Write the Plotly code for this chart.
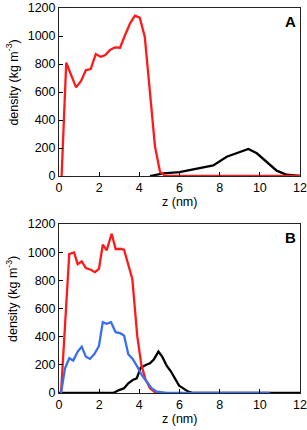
import plotly.graph_objects as go

# Panel A
a_red_z = [0.13, 0.36, 0.85, 1.1, 1.34, 1.58, 1.83, 2.07, 2.31, 2.54, 2.79, 3.04, 3.27, 3.54, 3.78, 4.02, 4.27, 4.52, 4.78, 5.03, 5.3, 12.0]
a_red_d = [0, 809, 633, 679, 757, 764, 871, 852, 864, 900, 919, 916, 1000, 1090, 1145, 1131, 995, 600, 210, 30, 0, 0]
a_blk_z = [4.53, 5.2, 6.0, 7.0, 7.68, 8.35, 9.0, 9.43, 9.85, 10.35, 10.84, 11.34, 12.0]
a_blk_d = [0, 19, 28, 55, 76, 138, 174, 193, 162, 98, 38, 9, 0]

# Panel B
b_red_z = [0.1, 0.51, 0.75, 0.93, 1.13, 1.34, 1.58, 1.79, 1.99, 2.18, 2.37, 2.62, 2.82, 3.04, 3.24, 3.45, 3.65, 3.9, 4.1, 4.3, 4.53, 4.78, 5.0]
b_red_d = [0, 986, 998, 915, 934, 887, 875, 858, 882, 1053, 1012, 1131, 1022, 1024, 1017, 910, 810, 400, 200, 100, 33, 5, 0]
b_blu_z = [0.1, 0.3, 0.51, 0.71, 0.93, 1.13, 1.34, 1.54, 1.76, 1.99, 2.18, 2.37, 2.59, 2.82, 3.04, 3.24, 3.45, 3.67, 3.9, 4.12, 4.37, 4.62, 4.87, 5.36, 10.5]
b_blu_d = [0, 176, 247, 230, 294, 329, 258, 242, 277, 334, 503, 491, 503, 432, 425, 408, 275, 242, 187, 128, 80, 33, 10, 0, 0]
b_blk_z = [0.0, 2.7, 2.99, 3.24, 3.45, 3.67, 3.87, 4.07, 4.32, 4.53, 4.73, 4.95, 5.14, 5.36, 5.56, 5.78, 5.98, 6.19, 6.44, 6.69, 12.0]
b_blk_d = [0, 0, 21, 33, 69, 92, 104, 180, 199, 211, 240, 294, 258, 194, 156, 104, 52, 33, 10, 0, 0]

x_ticks = [0, 2, 4, 6, 8, 10, 12]
y_ticks = [0, 200, 400, 600, 800, 1000, 1200]
panel_labels = ["A", "B"]
x_title = "z (nm)"
y_title = "density (kg m<sup>-3</sup>)"

RED = "#ff1a1a"
BLUE = "#3a6df0"
BLACK = "#000000"

fig = go.Figure()
lw = 2.3
fig.add_trace(go.Scatter(x=a_blk_z, y=a_blk_d, mode="lines", line=dict(color=BLACK, width=lw), xaxis="x", yaxis="y"))
fig.add_trace(go.Scatter(x=a_red_z, y=a_red_d, mode="lines", line=dict(color=RED, width=lw), xaxis="x", yaxis="y"))
fig.add_trace(go.Scatter(x=b_blk_z, y=b_blk_d, mode="lines", line=dict(color=BLACK, width=lw), xaxis="x2", yaxis="y2"))
fig.add_trace(go.Scatter(x=b_red_z, y=b_red_d, mode="lines", line=dict(color=RED, width=lw), xaxis="x2", yaxis="y2"))
fig.add_trace(go.Scatter(x=b_blu_z, y=b_blu_d, mode="lines", line=dict(color=BLUE, width=lw), xaxis="x2", yaxis="y2"))

font = dict(family="Liberation Sans, Arial, sans-serif", size=12, color="#000")

def xax(anchor):
    return dict(range=[0, 12], tickvals=x_ticks, ticks="inside", ticklen=4, tickcolor="#000",
                showline=True, mirror=True, linecolor="#222", linewidth=1, showgrid=False,
                zeroline=False, anchor=anchor, domain=[0, 1], automargin=False,
                tickfont=dict(size=12.5))

def yax(anchor, dom):
    return dict(range=[0, 1200], tickvals=y_ticks, ticks="inside", ticklen=4, tickcolor="#000",
                showline=True, mirror=True, linecolor="#222", linewidth=1, showgrid=False,
                zeroline=False, anchor=anchor, domain=dom, automargin=False,
                tickfont=dict(size=12.5))

annots = []
for xa, ya, lab in [("x", "y", panel_labels[0]), ("x2", "y2", panel_labels[1])]:
    annots.append(dict(text="<b>%s</b>" % lab, x=0.99, y=0.985, xref=xa + " domain", yref=ya + " domain",
                       xanchor="right", yanchor="top", showarrow=False, font=dict(size=15)))
    annots.append(dict(text=x_title, x=0.5, y=0, xref=xa + " domain", yref=ya + " domain",
                       xanchor="center", yanchor="middle", yshift=-26, showarrow=False, font=dict(size=12.5)))
    annots.append(dict(text=y_title, x=0, y=0.556, xref=xa + " domain", yref=ya + " domain",
                       xanchor="center", yanchor="middle", xshift=-47, textangle=-90, showarrow=False,
                       font=dict(size=12.5)))

fig.update_layout(
    width=307, height=430,
    margin=dict(l=59, r=7, t=8, b=37),
    paper_bgcolor="white", plot_bgcolor="white",
    showlegend=False, font=font,
    xaxis=xax("y"), yaxis=yax("x", [0.5636, 1.0]),
    xaxis2=xax("y2"), yaxis2=yax("x2", [0.0, 0.439]),
    annotations=annots,
)

fig.write_html("out.html", config={"displayModeBar": False},
               post_script="document.body.style.margin='0';")
